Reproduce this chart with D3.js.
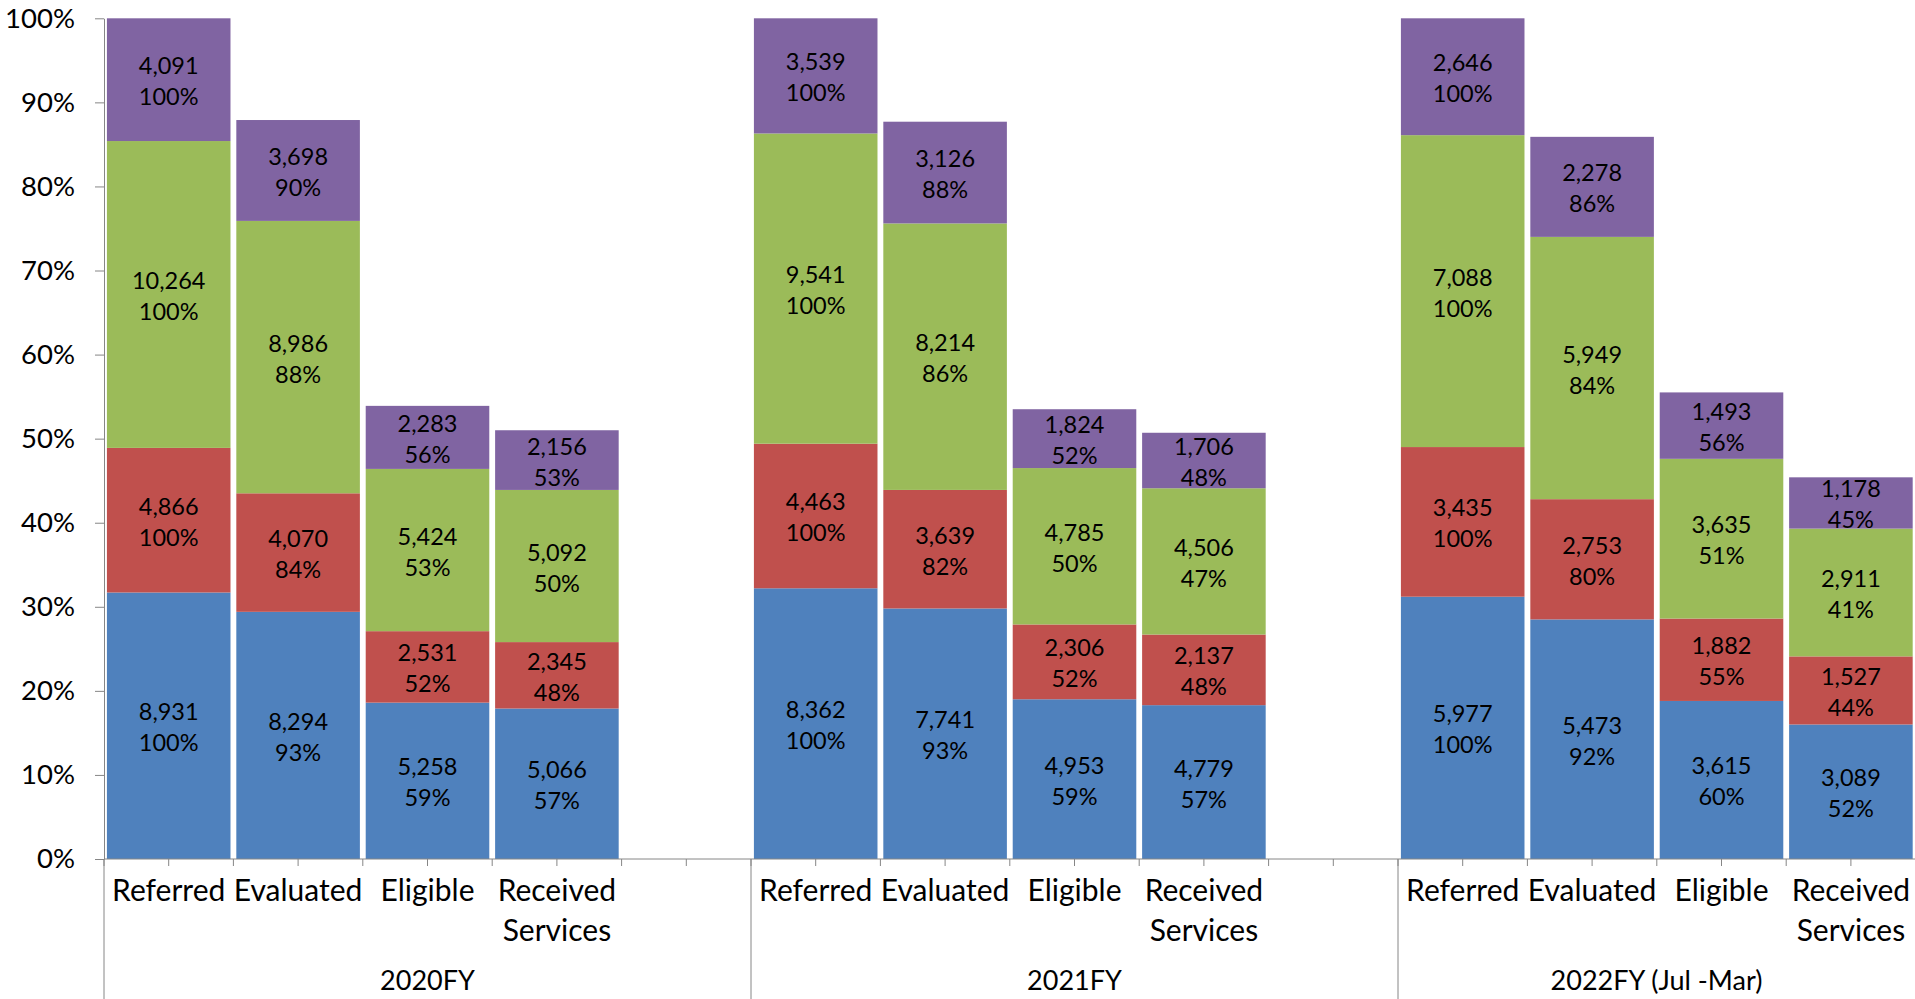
<!DOCTYPE html>
<html>
<head>
<meta charset="utf-8">
<script src="https://cdn.jsdelivr.net/npm/d3@7"></script>
<style>
  body { margin: 0; background: #fff; }
  svg { display: block; }
  text { font-family: Lato, "Open Sans", sans-serif; fill: #000; }
</style>
</head>
<body>
<script>
// Chart data

const groups = ['2020FY', '2021FY', '2022FY (Jul -Mar)'];
const stages = ['Referred', 'Evaluated', 'Eligible', 'Received Services'];

// share of each segment in the bar height (fraction of the group's Referred total)
const blueShare   = [0.317, 0.294, 0.186, 0.179, 0.322, 0.298, 0.190, 0.183, 0.312, 0.285, 0.188, 0.160];
const redShare    = [0.172, 0.141, 0.085, 0.079, 0.172, 0.141, 0.089, 0.084, 0.178, 0.143, 0.098, 0.081];
const greenShare  = [0.365, 0.324, 0.193, 0.181, 0.369, 0.317, 0.186, 0.174, 0.371, 0.312, 0.190, 0.152];
const purpleShare = [0.146, 0.120, 0.075, 0.071, 0.137, 0.121, 0.070, 0.066, 0.139, 0.119, 0.079, 0.061];

// label counts
const blueCount   = [8931, 8294, 5258, 5066, 8362, 7741, 4953, 4779, 5977, 5473, 3615, 3089];
const redCount    = [4866, 4070, 2531, 2345, 4463, 3639, 2306, 2137, 3435, 2753, 1882, 1527];
const greenCount  = [10264, 8986, 5424, 5092, 9541, 8214, 4785, 4506, 7088, 5949, 3635, 2911];
const purpleCount = [4091, 3698, 2283, 2156, 3539, 3126, 1824, 1706, 2646, 2278, 1493, 1178];

// label percents
const bluePct   = [100, 93, 59, 57, 100, 93, 59, 57, 100, 92, 60, 52];
const redPct    = [100, 84, 52, 48, 100, 82, 52, 48, 100, 80, 55, 44];
const greenPct  = [100, 88, 53, 50, 100, 86, 50, 47, 100, 84, 51, 41];
const purplePct = [100, 90, 56, 53, 100, 88, 52, 48, 100, 86, 56, 45];

const yTicks = [0, 0.1, 0.2, 0.3, 0.4, 0.5, 0.6, 0.7, 0.8, 0.9, 1];

const seriesKeys = ['blue', 'red', 'green', 'purple'];
const colors = { blue: '#4f81bd', red: '#c0504d', green: '#9bbb59', purple: '#8064a2' };
const shares = { blue: blueShare, red: redShare, green: greenShare, purple: purpleShare };
const counts = { blue: blueCount, red: redCount, green: greenCount, purple: purpleCount };
const pcts = { blue: bluePct, red: redPct, green: greenPct, purple: purplePct };

/*
* Layout
*/
const width = 1915;
const height = 999;
const axisX = 104;
const baseY = 859;
const topY = 18.3;
const slotW = 129.4;
const slotsPerGroup = stages.length + 1; // one empty slot after each group
const axisColor = '#868686';

// one row per bar, with the slot it sits in
const rows = [];
groups.forEach((g, gi) => {
  stages.forEach((s, si) => {
    const i = gi * stages.length + si;
    const row = { group: g, stage: s, i: i, slot: gi * slotsPerGroup + si };
    seriesKeys.forEach(k => { row[k] = shares[k][i]; });
    rows.push(row);
  });
});

const nSlots = groups.length * slotsPerGroup;

const x = d3.scaleBand()
  .domain(d3.range(nSlots))
  .range([axisX, axisX + slotW * nSlots])
  .paddingInner(0.045)
  .paddingOuter(0.0225);

const y = d3.scaleLinear()
  .domain([0, 1])
  .range([baseY, topY]);

const stacked = d3.stack().keys(seriesKeys)(rows);

const svg = d3.select('body').append('svg')
  .attr('width', width)
  .attr('height', height);

// Bars
const layers = svg.append('g').selectAll('g')
  .data(stacked)
  .join('g')
  .attr('fill', d => colors[d.key]);

layers.selectAll('rect')
  .data(d => d.map(p => ({ key: d.key, p: p })))
  .join('rect')
  .attr('x', d => x(d.p.data.slot))
  .attr('width', x.bandwidth())
  .attr('y', d => y(d.p[1]))
  .attr('height', d => y(d.p[0]) - y(d.p[1]));

// Data labels: count on top line, percent below
const fmt = d3.format(',');
const labels = svg.append('g')
  .attr('font-size', 23.5)
  .attr('text-anchor', 'middle');

stacked.forEach(layer => {
  layer.forEach(p => {
    const i = p.data.i;
    const cx = x(p.data.slot) + x.bandwidth() / 2;
    const mid = (y(p[0]) + y(p[1])) / 2;
    labels.append('text')
      .attr('x', cx)
      .attr('y', mid - 5.5)
      .text(fmt(counts[layer.key][i]));
    labels.append('text')
      .attr('x', cx)
      .attr('y', mid + 25.5)
      .text(pcts[layer.key][i] + '%');
  });
});

// Y axis
const yAxis = svg.append('g')
  .attr('transform', `translate(${axisX},0)`)
  .call(d3.axisLeft(y)
    .tickValues(yTicks)
    .tickFormat(d3.format('.0%'))
    .tickSize(9)
    .tickSizeOuter(0)
    .tickPadding(20));

yAxis.selectAll('path, line').attr('stroke', axisColor);
yAxis.selectAll('text')
  .attr('font-size', 27.5)
  .attr('font-family', 'Lato, "Open Sans", sans-serif')
  .attr('fill', '#000');

// X axis line, ticks every half slot, group dividers
const xAxis = svg.append('g').attr('stroke', axisColor).attr('stroke-width', 1);

xAxis.append('line')
  .attr('x1', axisX).attr('x2', width)
  .attr('y1', baseY).attr('y2', baseY);

xAxis.selectAll('line.tick')
  .data(d3.range(nSlots * 2 + 1))
  .join('line')
  .attr('class', 'tick')
  .attr('x1', d => axisX + d * slotW / 2)
  .attr('x2', d => axisX + d * slotW / 2)
  .attr('y1', baseY)
  .attr('y2', baseY + 7);

xAxis.selectAll('line.divider')
  .data(d3.range(groups.length + 1))
  .join('line')
  .attr('class', 'divider')
  .attr('x1', d => axisX + d * slotsPerGroup * slotW)
  .attr('x2', d => axisX + d * slotsPerGroup * slotW)
  .attr('y1', baseY)
  .attr('y2', height);

// Category labels
const catLabels = svg.append('g')
  .attr('font-size', 30)
  .attr('text-anchor', 'middle');

rows.forEach(r => {
  const cx = x(r.slot) + x.bandwidth() / 2;
  const words = r.stage === 'Received Services' ? ['Received', 'Services'] : [r.stage];
  words.forEach((w, wi) => {
    catLabels.append('text')
      .attr('x', cx)
      .attr('y', 901 + wi * 40)
      .text(w);
  });
});

// Group labels, centred on the visible part of the group's span
svg.append('g')
  .attr('font-size', 27)
  .attr('text-anchor', 'middle')
  .selectAll('text')
  .data(groups)
  .join('text')
  .attr('x', (d, gi) => {
    const start = axisX + gi * slotsPerGroup * slotW;
    const end = Math.min(width, start + slotsPerGroup * slotW);
    return (start + end) / 2;
  })
  .attr('y', 990)
  .text(d => d);
</script>
</body>
</html>
